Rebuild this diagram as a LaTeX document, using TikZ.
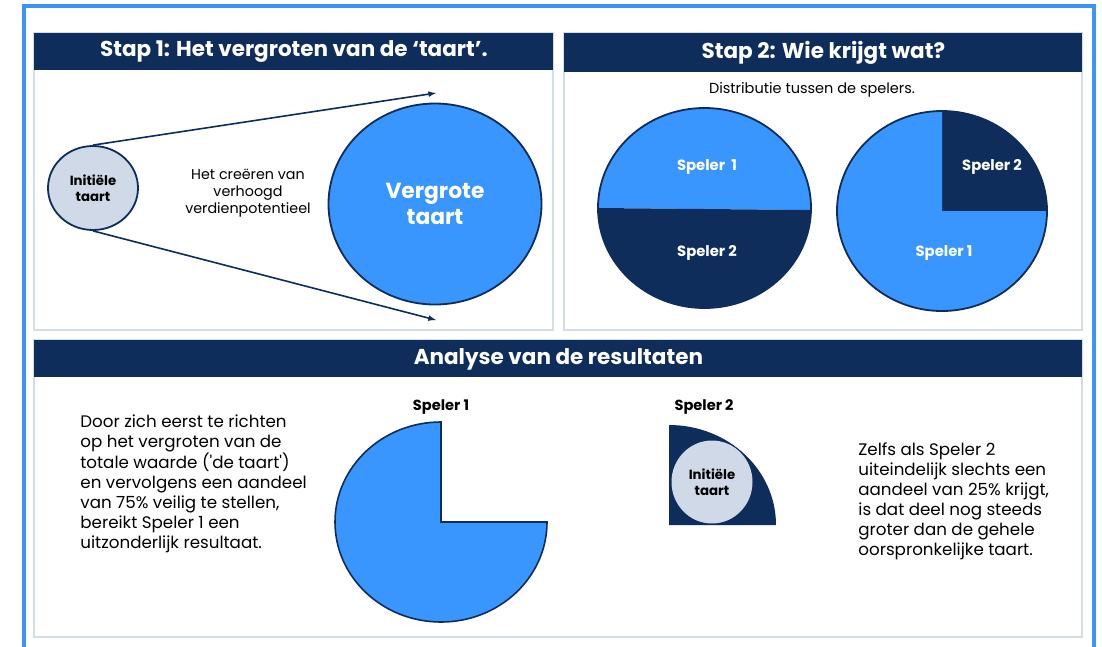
\documentclass[tikz,border=0pt]{standalone}
\usepackage{fontspec}
\setmainfont{Poppins}
\usetikzlibrary{positioning,shapes.geometric}
\definecolor{navy}{HTML}{0E2D5A}
\definecolor{pieblue}{HTML}{3A96FF}
\definecolor{palepie}{HTML}{CFD9E8}
\definecolor{panelgrey}{HTML}{D3DDE8}
\definecolor{frameblue}{HTML}{3D94F6}
\begin{document}
\begin{tikzpicture}[x=1pt, y=-1pt, thick,
		panel/.style={draw=panelgrey, line width=1.5pt},
		head bar/.style={fill=navy, text=white, anchor=north west, inner sep=0pt,
			font=\bfseries\fontsize{21.5}{24}\selectfont},
		small pie/.style={ellipse, inner sep=0pt, align=center, fill=palepie, text=black,
			font=\bfseries\fontsize{13.3}{16}\selectfont},
		pie label/.style={text=white, font=\bfseries\fontsize{14.8}{17}\selectfont},
		body text/.style={align=left, anchor=north west, inner sep=0pt,
			font=\fontsize{16.7}{20.1}\selectfont}]
	
	\useasboundingbox (0,0) rectangle (1102,646);
	\fill[white] (0,0) rectangle (1102,646);
	\draw[frameblue, line width=4pt] (24,650) -- (24,6) -- (1094,6) -- (1094,650);
	
	% panels
	\draw[panel] (34,33) rectangle (553,330);
	\draw[panel] (564,33) rectangle (1082,330);
	\draw[panel] (34,340) rectangle (1082,637);
	\node[head bar, minimum width=519pt, minimum height=37pt] (h1) at (34,33) {Stap 1: Het vergroten van de ‘taart’.};
	\node[head bar, minimum width=518pt, minimum height=39pt] (h2) at (564,33) {Stap 2: Wie krijgt wat?};
	\node[head bar, minimum width=1048pt, minimum height=37pt] (h3) at (34,340) {Analyse van de resultaten};
	
	% stap 1
	\node[small pie, draw=navy, line width=1.8pt, minimum width=90pt, minimum height=84pt] (ini) at (93,188) {Initiële\\taart};
	\node[ellipse, draw=navy, line width=1.8pt, fill=pieblue, minimum width=213pt, minimum height=201pt,
		text=white, align=center, font=\bfseries\fontsize{21.8}{26}\selectfont] (big) at (435,204) {Vergrote\\taart};
	\node[align=center, font=\fontsize{14.3}{17}\selectfont] (mid) at (248,193) {Het creëren van\\verhoogd\\verdienpotentieel};
	\coordinate (uptip) at (436,93);
	\coordinate (lowtip) at (436,320);
	\draw[navy, line width=1.6pt, -latex] (ini.north) -- (uptip);
	\draw[navy, line width=1.6pt, -latex] (ini.south) -- (lowtip);
	
	% stap 2
	\node[font=\fontsize{14.5}{17}\selectfont] (dist) at (812,90) {Distributie tussen de spelers.};
	\fill[pieblue] (598,208) arc[start angle=180, end angle=360, x radius=106.5, y radius=100] -- (811,210) -- cycle;
	\fill[navy] (598,208) arc[start angle=180, end angle=0, x radius=106.5, y radius=100] -- (811,210) -- cycle;
	\draw[navy, line width=1.8pt] (704.5,208) ellipse[x radius=106.5, y radius=100];
	\node[pie label] (a1) at (707,167) {Speler\ \ 1};
	\node[pie label] (a2) at (707,253) {Speler 2};
	
	\fill[navy] (942,211) -- (942,111) arc[start angle=270, end angle=360, x radius=105, y radius=100] -- cycle;
	\fill[pieblue] (942,211) -- (1047,211) arc[start angle=0, end angle=270, x radius=105, y radius=100] -- cycle;
	\draw[navy, line width=1.8pt] (942,211) ellipse[x radius=105, y radius=100];
	\node[pie label] (b2) at (992,167) {Speler 2};
	\node[pie label] (b1) at (944,253) {Speler 1};
	
	% analyse
	\node[body text] (left txt) at (80,414) {Door zich eerst te richten\\op het vergroten van de\\totale waarde (\textquotesingle de taart\textquotesingle)\\en vervolgens een aandeel\\van 75\% veilig te stellen,\\bereikt Speler 1 een\\uitzonderlijk resultaat.};
	\node[font=\bfseries\fontsize{14.6}{17}\selectfont] (s1) at (441,407) {Speler 1};
	\draw[navy, line width=1.6pt, fill=pieblue] (441,522) -- (547,522) arc[start angle=0, end angle=270, x radius=106, y radius=100] -- cycle;
	
	\node[font=\bfseries\fontsize{14.6}{17}\selectfont] (s2) at (704,407) {Speler 2};
	\fill[navy] (669,525) -- (669,425) arc[start angle=270, end angle=360, x radius=107, y radius=100] -- cycle;
	\node[small pie, minimum width=81pt, minimum height=83pt] (ini2) at (712,482) {Initiële\\taart};
	
	\node[body text] (right txt) at (858,442) {Zelfs als Speler 2\\uiteindelijk slechts een\\aandeel van 25\% krijgt,\\is dat deel nog steeds\\groter dan de gehele\\oorspronkelijke taart.};
\end{tikzpicture}
\end{document}
